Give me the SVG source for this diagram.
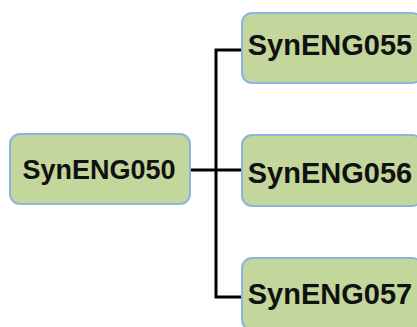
<svg xmlns="http://www.w3.org/2000/svg" width="417" height="327" viewBox="0 0 417 327">
<style>
.box{fill:#c3d69b;stroke:#8db3e2;stroke-width:2}
.lbl{font-family:"Liberation Sans",Arial,sans-serif;font-weight:bold;fill:#111;text-anchor:middle}
.conn{fill:none;stroke:#000;stroke-width:3}
</style>
<rect width="417" height="327" fill="#fff"/>
<g id="connectors">
<path class="conn" d="M190 170 H243"/>
<path class="conn" d="M243 50 H216 V297 H243"/>
</g>
<g id="n050">
<rect class="box" x="10" y="134" width="180" height="70" rx="10"/>
<text class="lbl" x="99" y="179" font-size="27">SynENG050</text>
</g>
<g id="n055">
<rect class="box" x="242" y="13" width="180" height="70" rx="10"/>
<text class="lbl" x="330" y="55" font-size="29">SynENG055</text>
</g>
<g id="n056">
<rect class="box" x="242" y="135" width="180" height="71" rx="10"/>
<text class="lbl" x="330" y="183" font-size="29">SynENG056</text>
</g>
<g id="n057">
<rect class="box" x="242" y="258" width="180" height="72" rx="10"/>
<text class="lbl" x="330" y="304" font-size="29">SynENG057</text>
</g>
</svg>
